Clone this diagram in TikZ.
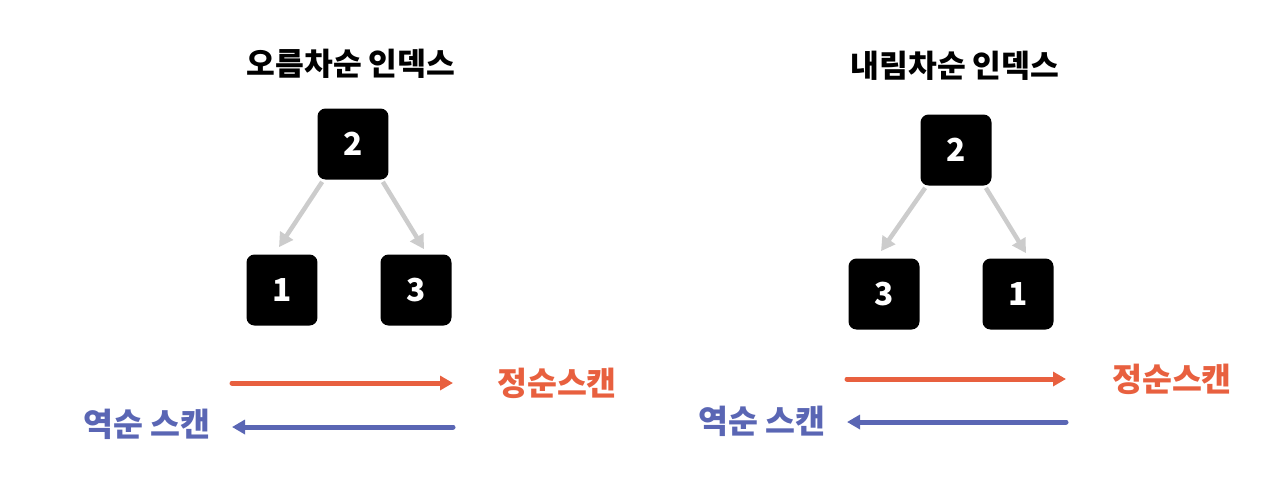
\documentclass[tikz,border=0pt]{standalone}
\usepackage{fontspec}
\newfontfamily\kr{Noto Sans CJK KR}
\usetikzlibrary{calc,arrows.meta}
\definecolor{scanfwd}{HTML}{E8603F}
\definecolor{scanrev}{HTML}{5A66B4}
\definecolor{edgegray}{HTML}{CCCCCC}
\begin{document}
\begin{tikzpicture}[x=0.02cm,y=-0.02cm]
            \tikzstyle{key node}=[rectangle,fill=black,rounded corners=0.16cm,minimum size=1.42cm,inner sep=0,text=white,font=\kr\bfseries\fontsize{18}{20}\selectfont];
            \tikzstyle{title}=[font=\kr\bfseries\fontsize{17.8}{20}\selectfont];
            \tikzstyle{label}=[font=\kr\bfseries\fontsize{18.5}{20}\selectfont];
            \tikzstyle{edge}=[draw=edgegray,line width=0.09cm,-{Triangle[length=0.28cm,width=0.3cm]}];
            \tikzstyle{scan}=[line width=0.1cm,line cap=round,-{Triangle[length=0.26cm,width=0.28cm]}];
            \useasboundingbox (0,0) rectangle (1280,478);
            % left tree
            \node[title] (ascTitle) at (351,64) {오름차순 인덱스};
            \node[key node] (ascRoot) at (353,144) {2};
            \node[key node] (ascLeft) at (282,290) {1};
            \node[key node] (ascRight) at (416,290) {3};
            \draw[edge] ($(ascRoot.south west)+(5,2)$)--($(ascLeft.north)+(-3,-7)$);
            \draw[edge] ($(ascRoot.south east)+(-6,2)$)--($(ascRight.north)+(8,-5)$);
            \coordinate (ascFrom) at (232,383);
            \coordinate (ascTo) at (453,383);
            \coordinate (ascRevFrom) at (453,427);
            \coordinate (ascRevTo) at (232,427);
            \draw[scan,scanfwd] (ascFrom)--(ascTo);
            \draw[scan,scanrev] (ascRevFrom)--(ascRevTo);
            \node[label,text=scanfwd] (ascFwdLabel) at (557,383) {정순스캔};
            \node[label,text=scanrev] (ascRevLabel) at (147,424) {역순 스캔};
            % right tree
            \node[title] (descTitle) at (955,66) {내림차순 인덱스};
            \node[key node] (descRoot) at (956,150) {2};
            \node[key node] (descLeft) at (884,294) {3};
            \node[key node] (descRight) at (1018,294) {1};
            \draw[edge] ($(descRoot.south west)+(5,2)$)--($(descLeft.north)+(-3,-7)$);
            \draw[edge] ($(descRoot.south east)+(-6,2)$)--($(descRight.north)+(8,-5)$);
            \coordinate (descFrom) at (847,379);
            \coordinate (descTo) at (1066,379);
            \coordinate (descRevFrom) at (1066,422);
            \coordinate (descRevTo) at (847,422);
            \draw[scan,scanfwd] (descFrom)--(descTo);
            \draw[scan,scanrev] (descRevFrom)--(descRevTo);
            \node[label,text=scanfwd] (descFwdLabel) at (1172,379) {정순스캔};
            \node[label,text=scanrev] (descRevLabel) at (762,421) {역순 스캔};
\end{tikzpicture}
\end{document}
